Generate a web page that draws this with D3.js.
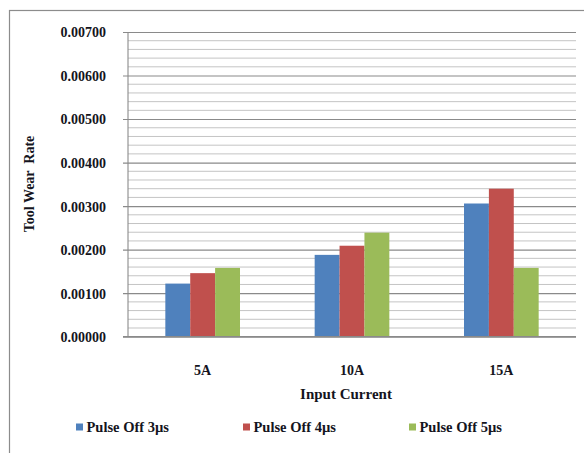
<!DOCTYPE html>
<html><head><meta charset="utf-8">
<script src="https://cdn.jsdelivr.net/npm/d3@7"></script>
<style>
html,body{margin:0;padding:0;background:#fff;}
svg{display:block;}
</style></head>
<body>
<script>
const categories = ["5A", "10A", "15A"];
const seriesNames = ["Pulse Off 3\u00b5s", "Pulse Off 4\u00b5s", "Pulse Off 5\u00b5s"];
const pulseOff3 = [0.00122, 0.00188, 0.00306];
const pulseOff4 = [0.00146, 0.00209, 0.00340];
const pulseOff5 = [0.00158, 0.00239, 0.00158];
const colors = ["#4F81BD", "#C0504D", "#9BBB59"];
const yTicks = [0, 0.001, 0.002, 0.003, 0.004, 0.005, 0.006, 0.007];
const seriesValues = [pulseOff3, pulseOff4, pulseOff5];

(function () {
const W = 584, H = 453;
const FONT = '"Liberation Serif","DejaVu Serif",serif';
const TXT = "#141420";
const svg = d3.select("body").append("svg").attr("width", W).attr("height", H);
function styleText(sel, size) {
  return sel.style("font-family", FONT).style("font-weight", "bold")
    .style("font-size", size + "px").attr("fill", TXT);
}

// outer chart border
svg.append("rect").attr("x", 9.5).attr("y", 10.5).attr("width", 620).attr("height", 500)
  .attr("fill", "none").attr("stroke", "#8c8c8c").attr("stroke-width", 1.2);

const pL = 128, pR = 576, pT = 32, pB = 336.7;
const y = d3.scaleLinear().domain([0, 0.007]).range([pB, pT]);
const x0 = d3.scaleBand().domain(categories).range([pL, pR]);
const bw = x0.bandwidth();
const x1 = d3.scaleBand().domain(seriesNames).range([bw / 4, bw * 3 / 4]);

// minor gridlines
const minor = d3.range(0, 0.00701, 0.0002).filter(v => Math.abs(Math.round(v / 0.001) * 0.001 - v) > 1e-9);
svg.append("g").selectAll("line").data(minor).join("line")
  .attr("x1", pL).attr("x2", pR)
  .attr("y1", d => y(d)).attr("y2", d => y(d))
  .attr("stroke", "#c4c4c4").attr("stroke-width", 1);

// major gridlines via axis
const yAxis = d3.axisLeft(y).tickValues(yTicks).tickSize(-(pR - pL)).tickFormat(d3.format(".5f"));
const gy = svg.append("g").attr("transform", `translate(${pL},0)`).call(yAxis);
gy.select(".domain").remove();
gy.selectAll(".tick line").attr("stroke", "#8a8a8a").attr("stroke-width", 1.1).attr("x1", -5);
styleText(gy.selectAll(".tick text").attr("x", -22).attr("dy", "0.35em"), 14);

// y axis line
svg.append("line").attr("x1", pL).attr("x2", pL).attr("y1", pT).attr("y2", pB)
  .attr("stroke", "#8a8a8a").attr("stroke-width", 1.1);

// bars
const groups = svg.append("g").selectAll("g").data(categories).join("g")
  .attr("transform", d => `translate(${x0(d)},0)`);
groups.selectAll("rect").data((c, i) => seriesNames.map((s, j) => ({s, j, v: seriesValues[j][i]})))
  .join("rect")
  .attr("x", d => x1(d.s)).attr("width", x1.bandwidth())
  .attr("y", d => y(d.v)).attr("height", d => y(0) - y(d.v))
  .attr("fill", d => colors[d.j]);

// baseline
svg.append("line").attr("x1", pL - 5).attr("x2", pR).attr("y1", pB).attr("y2", pB)
  .attr("stroke", "#8a8a8a").attr("stroke-width", 1.2);

// x axis labels
const xAxis = d3.axisBottom(x0).tickSize(0).tickPadding(0);
const gx = svg.append("g").attr("transform", `translate(0,${pB})`).call(xAxis);
gx.select(".domain").remove();
styleText(gx.selectAll(".tick text").attr("y", 33).attr("dy", "0.35em"), 14);

// axis titles
styleText(svg.append("text").attr("x", 346).attr("y", 394).attr("dy", "0.35em").attr("text-anchor", "middle"), 15)
  .text("Input Current");
styleText(svg.append("text").attr("transform", "translate(29,184) rotate(-90)").attr("dy", "0.35em")
  .attr("text-anchor", "middle").style("white-space", "pre"), 14).text("Tool Wear  Rate");

// legend
const legendX = [76, 243, 409];
const lg = svg.append("g").selectAll("g").data(seriesNames).join("g")
  .attr("transform", (d, i) => `translate(${legendX[i]},427)`);
lg.append("rect").attr("x", 0).attr("y", -3.5).attr("width", 7).attr("height", 7).attr("fill", (d, i) => colors[i]);
styleText(lg.append("text").attr("x", 10.5).attr("dy", "0.35em"), 14.5).text(d => d);
})();
</script>
</body></html>
